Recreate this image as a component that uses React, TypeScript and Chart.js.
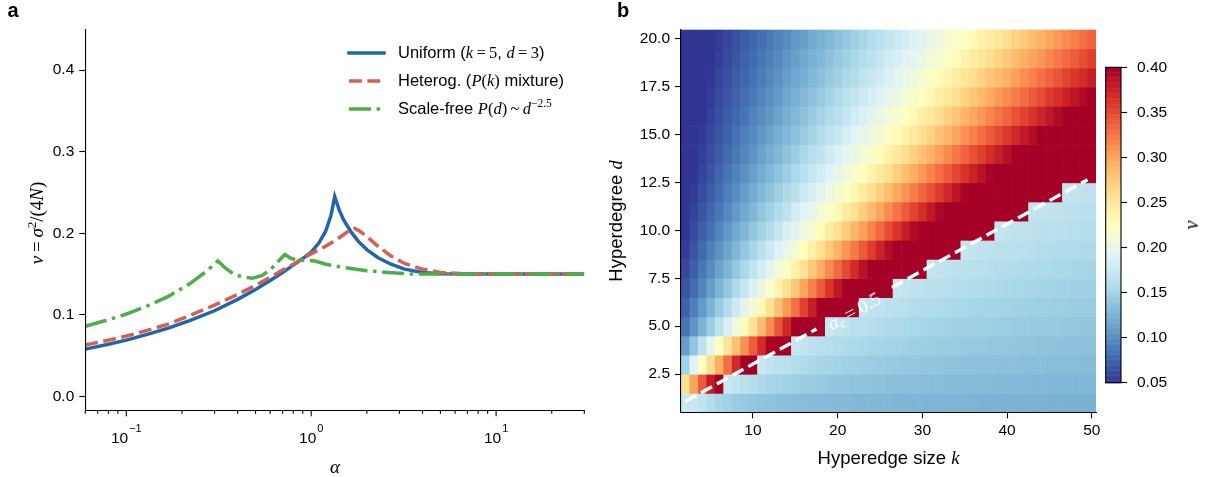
import React, { useEffect, useRef } from 'react';
import { Chart, registerables } from 'chart.js';
Chart.register(...registerables);

const SANS = "'Liberation Sans', Arial, Helvetica, sans-serif";
const SERIF = "'Liberation Serif', 'DejaVu Serif', 'Times New Roman', serif";

// ---------------- Panel a : nu vs alpha ----------------
const uniformAlpha = [0.06, 0.08, 0.1, 0.13, 0.17, 0.22, 0.3, 0.4, 0.5, 0.6, 0.7, 0.8, 0.9, 1.0, 1.1, 1.2, 1.28, 1.34, 1.42, 1.5, 1.65, 1.8, 2.0, 2.3, 2.7, 3.2, 4.0, 5.0, 7, 10, 30];
const uniformNu = [0.058, 0.064, 0.069, 0.076, 0.084, 0.093, 0.105, 0.119, 0.131, 0.142, 0.152, 0.161, 0.169, 0.177, 0.188, 0.203, 0.222, 0.245, 0.228, 0.216, 0.201, 0.19, 0.18, 0.17, 0.162, 0.156, 0.152, 0.1505, 0.15, 0.15, 0.15];

const heterogAlpha = [0.06, 0.08, 0.1, 0.13, 0.17, 0.22, 0.3, 0.4, 0.5, 0.6, 0.7, 0.8, 0.9, 1.0, 1.15, 1.3, 1.45, 1.6, 1.72, 1.85, 2.0, 2.3, 2.7, 3.2, 4.0, 5.0, 7, 10, 30];
const heterogNu = [0.063, 0.069, 0.074, 0.081, 0.089, 0.099, 0.112, 0.125, 0.136, 0.146, 0.155, 0.162, 0.169, 0.175, 0.182, 0.189, 0.196, 0.203, 0.206, 0.202, 0.196, 0.184, 0.172, 0.163, 0.156, 0.152, 0.15, 0.15, 0.15];

const scaleFreeAlpha = [0.06, 0.08, 0.1, 0.13, 0.17, 0.22, 0.27, 0.313, 0.34, 0.38, 0.43, 0.48, 0.54, 0.6, 0.66, 0.72, 0.78, 0.85, 0.95, 1.05, 1.2, 1.5, 2.0, 2.6, 3.5, 5, 10, 30];
const scaleFreeNu = [0.086, 0.094, 0.101, 0.111, 0.123, 0.138, 0.153, 0.166, 0.158, 0.15, 0.146, 0.145, 0.148, 0.155, 0.165, 0.174, 0.169, 0.167, 0.167, 0.166, 0.162, 0.158, 0.154, 0.152, 0.15, 0.15, 0.15, 0.15];

const aXMajorTicks = [0.1, 1, 10];
const aXMajorExponents = ['\u22121', '0', '1'];
const aXMinorTicks = [0.06, 0.07, 0.08, 0.09, 0.2, 0.3, 0.4, 0.5, 0.6, 0.7, 0.8, 0.9, 2, 3, 4, 5, 6, 7, 8, 9, 20, 30];
const aYTicks = [0.0, 0.1, 0.2, 0.3, 0.4];

// ---------------- Panel b : heatmap nu(k, d) ----------------
const kValues = [2, 3, 4, 5, 6, 7, 8, 9, 10, 11, 12, 13, 14, 15, 16, 17, 18, 19, 20, 21, 22, 23, 24, 25, 26, 27, 28, 29, 30, 31, 32, 33, 34, 35, 36, 37, 38, 39, 40, 41, 42, 43, 44, 45, 46, 47, 48, 49, 50];
const dValues = [1, 2, 3, 4, 5, 6, 7, 8, 9, 10, 11, 12, 13, 14, 15, 16, 17, 18, 19, 20];

const nuD1 = [0.175, 0.175, 0.170, 0.160, 0.153, 0.149, 0.145, 0.142, 0.140, 0.138,
  0.137, 0.135, 0.134, 0.133, 0.133, 0.132, 0.131, 0.131, 0.130, 0.130,
  0.129, 0.129, 0.128, 0.128, 0.128, 0.127, 0.127, 0.127, 0.127, 0.126,
  0.126, 0.126, 0.126, 0.126, 0.126, 0.125, 0.125, 0.125, 0.125, 0.125,
  0.125, 0.125, 0.125, 0.124, 0.124, 0.124, 0.124, 0.124, 0.124];
const nuD2 = [0.26, 0.30, 0.34, 0.38, 0.42, 0.175, 0.170, 0.164, 0.160, 0.156,
  0.153, 0.151, 0.149, 0.147, 0.145, 0.144, 0.142, 0.141, 0.140, 0.139,
  0.138, 0.137, 0.137, 0.136, 0.135, 0.135, 0.134, 0.134, 0.133, 0.133,
  0.133, 0.132, 0.132, 0.131, 0.131, 0.131, 0.131, 0.130, 0.130, 0.130,
  0.130, 0.129, 0.129, 0.129, 0.129, 0.129, 0.128, 0.128, 0.128];
const nuD3 = [0.15, 0.19, 0.225, 0.26, 0.295, 0.33, 0.37, 0.41, 0.43, 0.175,
  0.170, 0.166, 0.163, 0.160, 0.158, 0.155, 0.153, 0.152, 0.150, 0.149,
  0.147, 0.146, 0.145, 0.144, 0.143, 0.142, 0.141, 0.141, 0.140, 0.139,
  0.139, 0.138, 0.138, 0.137, 0.137, 0.136, 0.136, 0.135, 0.135, 0.135,
  0.134, 0.134, 0.134, 0.133, 0.133, 0.133, 0.133, 0.132, 0.132];
const nuD4 = [0.110, 0.139, 0.167, 0.196, 0.225, 0.254, 0.282, 0.311, 0.340, 0.368,
  0.397, 0.426, 0.43, 0.173, 0.170, 0.167, 0.164, 0.162, 0.160, 0.158,
  0.156, 0.155, 0.153, 0.152, 0.151, 0.150, 0.149, 0.148, 0.147, 0.146,
  0.145, 0.144, 0.144, 0.143, 0.142, 0.142, 0.141, 0.141, 0.140, 0.140,
  0.139, 0.139, 0.138, 0.138, 0.137, 0.137, 0.137, 0.136, 0.136];
const nuD5 = [0.085, 0.105, 0.125, 0.146, 0.166, 0.186, 0.207, 0.228, 0.257, 0.285,
  0.314, 0.343, 0.371, 0.400, 0.429, 0.43, 0.43, 0.173, 0.170, 0.168,
  0.165, 0.163, 0.162, 0.160, 0.158, 0.157, 0.156, 0.154, 0.153, 0.152,
  0.151, 0.150, 0.149, 0.149, 0.148, 0.147, 0.146, 0.146, 0.145, 0.144,
  0.144, 0.143, 0.143, 0.142, 0.142, 0.141, 0.141, 0.140, 0.140];
const nuD6 = [0.074, 0.092, 0.109, 0.126, 0.144, 0.161, 0.178, 0.196, 0.213, 0.232,
  0.257, 0.281, 0.305, 0.329, 0.354, 0.378, 0.402, 0.427, 0.43, 0.43,
  0.43, 0.172, 0.170, 0.168, 0.166, 0.164, 0.163, 0.161, 0.160, 0.159,
  0.158, 0.156, 0.155, 0.154, 0.153, 0.152, 0.152, 0.151, 0.150, 0.149,
  0.149, 0.148, 0.147, 0.147, 0.146, 0.146, 0.145, 0.144, 0.144];
const nuD7 = [0.066, 0.081, 0.096, 0.111, 0.126, 0.141, 0.157, 0.172, 0.187, 0.203,
  0.218, 0.237, 0.257, 0.278, 0.299, 0.320, 0.341, 0.362, 0.383, 0.404,
  0.425, 0.43, 0.43, 0.43, 0.43, 0.172, 0.170, 0.168, 0.167, 0.165,
  0.164, 0.162, 0.161, 0.160, 0.159, 0.158, 0.157, 0.156, 0.155, 0.154,
  0.153, 0.153, 0.152, 0.151, 0.150, 0.150, 0.149, 0.149, 0.148];
const nuD8 = [0.060, 0.073, 0.087, 0.100, 0.114, 0.127, 0.141, 0.154, 0.168, 0.182,
  0.195, 0.209, 0.222, 0.240, 0.258, 0.277, 0.295, 0.314, 0.332, 0.350,
  0.369, 0.387, 0.406, 0.424, 0.43, 0.43, 0.43, 0.43, 0.43, 0.172,
  0.170, 0.168, 0.167, 0.166, 0.164, 0.163, 0.162, 0.161, 0.160, 0.159,
  0.158, 0.157, 0.156, 0.156, 0.155, 0.154, 0.153, 0.153, 0.152];
const nuD9 = [0.054, 0.067, 0.079, 0.091, 0.103, 0.115, 0.128, 0.140, 0.152, 0.164,
  0.176, 0.189, 0.201, 0.213, 0.226, 0.242, 0.259, 0.275, 0.291, 0.308,
  0.324, 0.341, 0.357, 0.374, 0.390, 0.407, 0.423, 0.43, 0.43, 0.43,
  0.43, 0.43, 0.43, 0.171, 0.170, 0.169, 0.167, 0.166, 0.165, 0.164,
  0.163, 0.162, 0.161, 0.160, 0.159, 0.158, 0.158, 0.157, 0.156];
const nuD10 = [0.050, 0.061, 0.072, 0.083, 0.095, 0.106, 0.117, 0.128, 0.139, 0.150,
  0.161, 0.173, 0.184, 0.195, 0.206, 0.217, 0.229, 0.244, 0.259, 0.274,
  0.289, 0.303, 0.318, 0.333, 0.348, 0.363, 0.378, 0.393, 0.407, 0.422,
  0.43, 0.43, 0.43, 0.43, 0.43, 0.43, 0.43, 0.171, 0.170, 0.169,
  0.168, 0.167, 0.165, 0.164, 0.163, 0.163, 0.162, 0.161, 0.160];
const nuD11 = [0.050, 0.057, 0.067, 0.077, 0.087, 0.098, 0.108, 0.118, 0.128, 0.139,
  0.149, 0.159, 0.169, 0.180, 0.190, 0.200, 0.210, 0.220, 0.232, 0.246,
  0.259, 0.273, 0.286, 0.300, 0.313, 0.327, 0.340, 0.354, 0.367, 0.381,
  0.395, 0.408, 0.422, 0.43, 0.43, 0.43, 0.43, 0.43, 0.43, 0.43,
  0.43, 0.171, 0.170, 0.169, 0.168, 0.167, 0.166, 0.165, 0.164];
const nuD12 = [0.050, 0.053, 0.062, 0.072, 0.081, 0.091, 0.100, 0.110, 0.119, 0.128,
  0.138, 0.147, 0.157, 0.166, 0.176, 0.185, 0.195, 0.204, 0.214, 0.223,
  0.235, 0.247, 0.260, 0.272, 0.284, 0.297, 0.309, 0.322, 0.334, 0.346,
  0.359, 0.371, 0.384, 0.396, 0.408, 0.421, 0.43, 0.43, 0.43, 0.43,
  0.43, 0.43, 0.43, 0.43, 0.43, 0.171, 0.170, 0.169, 0.168];
const nuD13 = [0.050, 0.050, 0.058, 0.067, 0.076, 0.085, 0.094, 0.102, 0.111, 0.120,
  0.129, 0.138, 0.146, 0.155, 0.164, 0.173, 0.181, 0.190, 0.199, 0.208,
  0.217, 0.226, 0.237, 0.249, 0.260, 0.272, 0.283, 0.295, 0.306, 0.318,
  0.329, 0.341, 0.352, 0.363, 0.375, 0.386, 0.398, 0.409, 0.421, 0.43,
  0.43, 0.43, 0.43, 0.43, 0.43, 0.43, 0.43, 0.43, 0.43];
const nuD14 = [0.050, 0.050, 0.055, 0.063, 0.071, 0.080, 0.088, 0.096, 0.104, 0.113,
  0.121, 0.129, 0.137, 0.145, 0.154, 0.162, 0.170, 0.178, 0.186, 0.195,
  0.203, 0.211, 0.219, 0.228, 0.239, 0.249, 0.260, 0.271, 0.281, 0.292,
  0.303, 0.314, 0.324, 0.335, 0.346, 0.356, 0.367, 0.378, 0.388, 0.399,
  0.410, 0.420, 0.43, 0.43, 0.43, 0.43, 0.43, 0.43, 0.43];
const nuD15 = [0.050, 0.050, 0.052, 0.060, 0.068, 0.075, 0.083, 0.091, 0.098, 0.106,
  0.114, 0.121, 0.129, 0.137, 0.145, 0.152, 0.160, 0.168, 0.175, 0.183,
  0.191, 0.198, 0.206, 0.214, 0.222, 0.230, 0.240, 0.250, 0.260, 0.270,
  0.280, 0.290, 0.300, 0.310, 0.320, 0.330, 0.340, 0.350, 0.360, 0.370,
  0.380, 0.390, 0.400, 0.410, 0.420, 0.43, 0.43, 0.43, 0.43];
const nuD16 = [0.050, 0.050, 0.050, 0.056, 0.064, 0.071, 0.078, 0.085, 0.093, 0.100,
  0.107, 0.114, 0.122, 0.129, 0.136, 0.143, 0.151, 0.158, 0.165, 0.172,
  0.180, 0.187, 0.194, 0.202, 0.209, 0.216, 0.223, 0.232, 0.242, 0.251,
  0.261, 0.270, 0.279, 0.289, 0.298, 0.307, 0.317, 0.326, 0.335, 0.345,
  0.354, 0.363, 0.373, 0.382, 0.392, 0.401, 0.410, 0.420, 0.429];
const nuD17 = [0.050, 0.050, 0.050, 0.054, 0.061, 0.068, 0.074, 0.081, 0.088, 0.095,
  0.102, 0.109, 0.116, 0.123, 0.130, 0.136, 0.143, 0.150, 0.157, 0.164,
  0.171, 0.178, 0.184, 0.191, 0.198, 0.205, 0.212, 0.219, 0.225, 0.234,
  0.243, 0.252, 0.261, 0.269, 0.278, 0.287, 0.296, 0.305, 0.313, 0.322,
  0.331, 0.340, 0.349, 0.358, 0.366, 0.375, 0.384, 0.393, 0.402];
const nuD18 = [0.050, 0.050, 0.050, 0.051, 0.058, 0.064, 0.071, 0.077, 0.084, 0.090,
  0.097, 0.103, 0.110, 0.116, 0.122, 0.129, 0.135, 0.142, 0.148, 0.155,
  0.161, 0.168, 0.174, 0.181, 0.187, 0.194, 0.200, 0.207, 0.213, 0.220,
  0.228, 0.236, 0.244, 0.253, 0.261, 0.269, 0.278, 0.286, 0.294, 0.303,
  0.311, 0.319, 0.328, 0.336, 0.344, 0.353, 0.361, 0.369, 0.378];
const nuD19 = [0.050, 0.050, 0.050, 0.050, 0.055, 0.061, 0.068, 0.074, 0.080, 0.086,
  0.092, 0.098, 0.105, 0.111, 0.117, 0.123, 0.129, 0.135, 0.142, 0.148,
  0.154, 0.160, 0.166, 0.172, 0.179, 0.185, 0.191, 0.197, 0.203, 0.210,
  0.216, 0.222, 0.229, 0.237, 0.245, 0.253, 0.261, 0.269, 0.277, 0.285,
  0.293, 0.301, 0.308, 0.316, 0.324, 0.332, 0.340, 0.348, 0.356];
const nuD20 = [0.050, 0.050, 0.050, 0.050, 0.053, 0.059, 0.065, 0.071, 0.077, 0.082,
  0.088, 0.094, 0.100, 0.106, 0.112, 0.118, 0.124, 0.129, 0.135, 0.141,
  0.147, 0.153, 0.159, 0.165, 0.171, 0.176, 0.182, 0.188, 0.194, 0.200,
  0.206, 0.212, 0.218, 0.224, 0.231, 0.239, 0.246, 0.254, 0.261, 0.269,
  0.276, 0.284, 0.291, 0.299, 0.306, 0.314, 0.321, 0.329, 0.336];
const nuRows = [nuD1, nuD2, nuD3, nuD4, nuD5, nuD6, nuD7, nuD8, nuD9, nuD10,
  nuD11, nuD12, nuD13, nuD14, nuD15, nuD16, nuD17, nuD18, nuD19, nuD20];

const bXTicks = [10, 20, 30, 40, 50];
const bYTicks = [2.5, 5.0, 7.5, 10.0, 12.5, 15.0, 17.5, 20.0];
const criticalLineK = [2, 17.5, 22, 26.4, 49.5];
const criticalLineD = [1.07, 4.85, null, 7.02, 12.65];
const cbTicks = [0.05, 0.10, 0.15, 0.20, 0.25, 0.30, 0.35, 0.40];
const cbMin = 0.05;
const cbMax = 0.40;

// RdYlBu reversed
const cmapStops = ['#313695', '#4575b4', '#74add1', '#abd9e9', '#e0f3f8', '#ffffbf', '#fee090', '#fdae61', '#f46d43', '#d73027', '#a50026'];
const stopRGB = cmapStops.map((h) => [parseInt(h.slice(1, 3), 16), parseInt(h.slice(3, 5), 16), parseInt(h.slice(5, 7), 16)]);
function cmap(v: number): string {
  let t = (v - cbMin) / (cbMax - cbMin);
  t = Math.max(0, Math.min(1, t)) * 10;
  const i = Math.min(9, Math.floor(t));
  const f = t - i;
  const a = stopRGB[i];
  const b = stopRGB[i + 1];
  const c = a.map((x, j) => Math.round(x + (b[j] - x) * f));
  return `rgb(${c[0]},${c[1]},${c[2]})`;
}

const BLUE = '#2166ac';
const RED = '#d6604d';
const GREEN = '#4daf4a';
const DASH_RED = [12.8, 5.6];
const DASH_GREEN = [22, 5.6, 3.5, 5.6];

const logAxisPlugin = {
  id: 'logAxisDecor',
  afterDraw(chart: any) {
    const { ctx, scales, chartArea } = chart;
    const x = scales.x;
    const yb = chartArea.bottom;
    ctx.save();
    ctx.strokeStyle = '#000';
    ctx.lineWidth = 1.1;
    const tick = (v: number, len: number) => {
      const px = x.getPixelForValue(v);
      ctx.beginPath();
      ctx.moveTo(px, yb);
      ctx.lineTo(px, yb + len);
      ctx.stroke();
    };
    aXMinorTicks.forEach((v) => tick(v, 3.5));
    aXMajorTicks.forEach((v) => tick(v, 6));
    ctx.fillStyle = '#000';
    ctx.textBaseline = 'alphabetic';
    ctx.textAlign = 'left';
    aXMajorTicks.forEach((v, i) => {
      const px = x.getPixelForValue(v);
      ctx.font = `15.5px ${SANS}`;
      const wb = ctx.measureText('10').width;
      ctx.font = `11px ${SANS}`;
      const we = ctx.measureText(aXMajorExponents[i]).width;
      const left = px - (wb + 1 + we) / 2;
      ctx.font = `15.5px ${SANS}`;
      ctx.fillText('10', left, yb + 33);
      ctx.font = `11px ${SANS}`;
      ctx.fillText(aXMajorExponents[i], left + wb + 1, yb + 22);
    });
    ctx.restore();
  },
};

const heatmapPlugin = {
  id: 'heatmapCells',
  beforeDatasetsDraw(chart: any) {
    const { ctx, chartArea, scales } = chart;
    const x = scales.x;
    const y = scales.y;
    ctx.save();
    ctx.beginPath();
    ctx.rect(chartArea.left, chartArea.top, chartArea.width, chartArea.height);
    ctx.clip();
    nuRows.forEach((row, i) => {
      const d = dValues[i];
      const yTop = y.getPixelForValue(d + 0.5);
      const yBot = y.getPixelForValue(d - 0.5);
      row.forEach((v, j) => {
        const k = kValues[j];
        const x0 = x.getPixelForValue(k - 0.5);
        const x1 = x.getPixelForValue(k + 0.5);
        ctx.fillStyle = cmap(v);
        ctx.fillRect(x0, yTop, x1 - x0 + 0.6, yBot - yTop + 0.6);
      });
    });
    ctx.restore();
  },
};

const colorbarPlugin = {
  id: 'colorbarFill',
  beforeDatasetsDraw(chart: any) {
    const { ctx, chartArea, scales } = chart;
    const y = scales.y;
    const n = 256;
    const step = (cbMax - cbMin) / n;
    ctx.save();
    for (let i = 0; i < n; i++) {
      const v0 = cbMin + i * step;
      const p0 = y.getPixelForValue(v0);
      const p1 = y.getPixelForValue(v0 + step);
      ctx.fillStyle = cmap(v0 + step / 2);
      ctx.fillRect(chartArea.left, p1, chartArea.width, p0 - p1 + 0.5);
    }
    ctx.strokeStyle = '#000';
    ctx.lineWidth = 1.1;
    ctx.strokeRect(chartArea.left, chartArea.top, chartArea.width, chartArea.height);
    ctx.restore();
  },
};

const tickGrid = { display: true, drawOnChartArea: false, drawTicks: true, tickLength: 6, tickColor: '#000', tickWidth: 1.1 };
const spine = { display: true, color: '#000', width: 1.1, z: 1 };

function makePanelA(canvas: HTMLCanvasElement) {
  const series = (xs: number[], ys: number[]) => xs.map((a, i) => ({ x: a, y: ys[i] }));
  return new Chart(canvas, {
    type: 'line',
    data: {
      datasets: [
        { label: 'Scale-free', data: series(scaleFreeAlpha, scaleFreeNu), borderColor: GREEN, borderWidth: 3.5, borderDash: DASH_GREEN, pointRadius: 0, tension: 0, fill: false, order: 0, borderCapStyle: 'butt' },
        { label: 'Heterog.', data: series(heterogAlpha, heterogNu), borderColor: RED, borderWidth: 3.5, borderDash: DASH_RED, pointRadius: 0, tension: 0, fill: false, order: 1, borderCapStyle: 'butt' },
        { label: 'Uniform', data: series(uniformAlpha, uniformNu), borderColor: BLUE, borderWidth: 3.5, pointRadius: 0, tension: 0, fill: false, order: 2 },
      ],
    } as any,
    options: {
      responsive: false,
      animation: false,
      devicePixelRatio: 1,
      layout: { padding: { left: 0, right: 15.7, top: 29.3, bottom: 0 } },
      plugins: { legend: { display: false }, tooltip: { enabled: false } },
      scales: {
        x: {
          type: 'logarithmic', min: 0.06, max: 30,
          afterBuildTicks: (s: any) => { s.ticks = aXMajorTicks.map((v) => ({ value: v })); },
          afterFit: (s: any) => { s.height = 66.7; },
          ticks: { display: false },
          grid: { display: false },
          border: spine,
        },
        y: {
          type: 'linear', min: -0.017, max: 0.45,
          afterBuildTicks: (s: any) => { s.ticks = aYTicks.map((v) => ({ value: v })); },
          afterFit: (s: any) => { s.width = 85.3; },
          ticks: { callback: (v: any) => Number(v).toFixed(1), padding: 5, color: '#000', font: { size: 15.5, family: SANS } },
          grid: tickGrid,
          border: spine,
        },
      },
    } as any,
    plugins: [logAxisPlugin],
  });
}

function makePanelB(canvas: HTMLCanvasElement) {
  return new Chart(canvas, {
    type: 'line',
    data: {
      datasets: [
        { label: 'alpha_c', data: criticalLineK.map((k, i) => ({ x: k, y: criticalLineD[i] })), borderColor: '#ffffff', borderWidth: 3.4, borderDash: [12.5, 5.5], pointRadius: 0, tension: 0, spanGaps: false, fill: false, borderCapStyle: 'butt' },
      ],
    } as any,
    options: {
      responsive: false,
      animation: false,
      devicePixelRatio: 1,
      layout: { padding: { left: 0, right: 14, top: 29.4, bottom: 0 } },
      plugins: { legend: { display: false }, tooltip: { enabled: false } },
      scales: {
        x: {
          type: 'linear', min: 1.5, max: 50.5,
          afterBuildTicks: (s: any) => { s.ticks = bXTicks.map((v) => ({ value: v })); },
          afterFit: (s: any) => { s.height = 477 - 412.3; },
          ticks: { callback: (v: any) => String(v), padding: 3, color: '#000', font: { size: 15.5, family: SANS }, maxRotation: 0, autoSkip: false },
          grid: tickGrid,
          border: spine,
        },
        y: {
          type: 'linear', min: 0.5, max: 20.5,
          afterBuildTicks: (s: any) => { s.ticks = bYTicks.map((v) => ({ value: v })); },
          afterFit: (s: any) => { s.width = 81; },
          ticks: { callback: (v: any) => Number(v).toFixed(1), padding: 5, color: '#000', font: { size: 15.5, family: SANS }, autoSkip: false },
          grid: tickGrid,
          border: spine,
        },
      },
    } as any,
    plugins: [heatmapPlugin],
  });
}

function makeColorbar(canvas: HTMLCanvasElement) {
  return new Chart(canvas, {
    type: 'line',
    data: { datasets: [] },
    options: {
      responsive: false,
      animation: false,
      devicePixelRatio: 1,
      layout: { padding: { left: 5.7, right: 0, top: 67.3, bottom: 94.3 } },
      plugins: { legend: { display: false }, tooltip: { enabled: false } },
      scales: {
        x: { display: false },
        y: {
          type: 'linear', position: 'right', min: cbMin, max: cbMax,
          afterBuildTicks: (s: any) => { s.ticks = cbTicks.map((v) => ({ value: v })); },
          afterFit: (s: any) => { s.width = 86; },
          ticks: { callback: (v: any) => Number(v).toFixed(2), padding: 10, color: '#000', font: { size: 15.5, family: SANS }, autoSkip: false },
          grid: tickGrid,
          border: { display: false },
        },
      },
    } as any,
    plugins: [colorbarPlugin],
  });
}

const Label = ({ cx, cy, rot = 0, style, children }: any) => (
  <div style={{ position: 'absolute', left: cx, top: cy, transform: `translate(-50%, -50%) rotate(${rot}deg)`, whiteSpace: 'nowrap', lineHeight: 1, color: '#000', ...style }}>{children}</div>
);
const M = ({ children, i = true, size }: any) => (
  <span style={{ fontFamily: SERIF, fontStyle: i ? 'italic' : 'normal', fontSize: size }}>{children}</span>
);

const LegendRow = ({ cy, color, dash, cap, children }: any) => (
  <div style={{ position: 'absolute', left: 346, top: cy - 10, height: 20, display: 'flex', alignItems: 'center', whiteSpace: 'nowrap' }}>
    <svg width={40} height={20} style={{ display: 'block' }}>
      <line x1={3} y1={10} x2={38} y2={10} stroke={color} strokeWidth={3.5} strokeDasharray={dash ? dash.join(' ') : undefined} strokeLinecap={cap} />
    </svg>
    <span style={{ marginLeft: 12, fontFamily: SANS, fontSize: 16.5, color: '#000' }}>{children}</span>
  </div>
);

export default function App() {
  const aRef = useRef<HTMLCanvasElement>(null);
  const bRef = useRef<HTMLCanvasElement>(null);
  const cRef = useRef<HTMLCanvasElement>(null);
  useEffect(() => {
    Chart.defaults.font.family = SANS;
    Chart.defaults.font.size = 15;
    Chart.defaults.color = '#000';
    const charts = [makePanelA(aRef.current!), makePanelB(bRef.current!), makeColorbar(cRef.current!)];
    return () => charts.forEach((c) => c.destroy());
  }, []);
  const th = '\u2009';
  return (
    <div style={{ position: 'fixed', left: 0, top: 0, width: 1207, height: 477, background: '#fff', overflow: 'hidden', fontFamily: SANS }}>
      <canvas ref={aRef} width={600} height={477} style={{ position: 'absolute', left: 0, top: 0 }} />
      <canvas ref={bRef} width={510} height={477} style={{ position: 'absolute', left: 600, top: 0 }} />
      <canvas ref={cRef} width={107} height={477} style={{ position: 'absolute', left: 1100, top: 0 }} />

      <Label cx={13} cy={10} style={{ fontWeight: 'bold', fontSize: 20, fontFamily: SANS }}>a</Label>
      <Label cx={623} cy={10} style={{ fontWeight: 'bold', fontSize: 20, fontFamily: SANS }}>b</Label>

      <Label cx={36} cy={223} rot={-90} style={{ fontFamily: SERIF, fontSize: 19 }}>
        <M>ν</M>{th}={th}<M>σ</M><sup style={{ fontSize: 12.5, verticalAlign: '0.5em', lineHeight: 0 }}>2</sup>/(4<M>N</M>)
      </Label>
      <Label cx={335} cy={466} style={{ fontSize: 19 }}><M>α</M></Label>

      <LegendRow cy={52.7} color={BLUE} cap="square">
        Uniform (<M>k</M><M i={false}>{th}={th}5</M>, <M>d</M><M i={false}>{th}={th}3</M>)
      </LegendRow>
      <LegendRow cy={80.7} color={RED} dash={DASH_RED} cap="butt">
        Heterog. (<M>P</M><M i={false}>(</M><M>k</M><M i={false}>)</M> mixture)
      </LegendRow>
      <LegendRow cy={108.7} color={GREEN} dash={DASH_GREEN} cap="butt">
        Scale-free <M>P</M><M i={false}>(</M><M>d</M><M i={false}>)</M><M i={false}>{th}~{th}</M><M>d</M><sup style={{ fontFamily: SERIF, fontSize: 11.5, verticalAlign: '0.6em', lineHeight: 0 }}>−2.5</sup>
      </LegendRow>

      <Label cx={616} cy={221} rot={-90} style={{ fontSize: 18.5 }}>Hyperdegree <M>d</M></Label>
      <Label cx={888.5} cy={458} style={{ fontSize: 18.5 }}>Hyperedge size <M>k</M></Label>
      <Label cx={1191} cy={225} rot={-90} style={{ fontSize: 20 }}><M>ν</M></Label>

      <Label cx={854} cy={311} rot={-29} style={{ color: '#fff', fontSize: 19, fontFamily: SERIF }}>
        <M>α</M><sub style={{ fontSize: 12.5, fontStyle: 'italic', verticalAlign: '-0.25em', lineHeight: 0 }}>c</sub>{th}={th}0.5
      </Label>
    </div>
  );
}
